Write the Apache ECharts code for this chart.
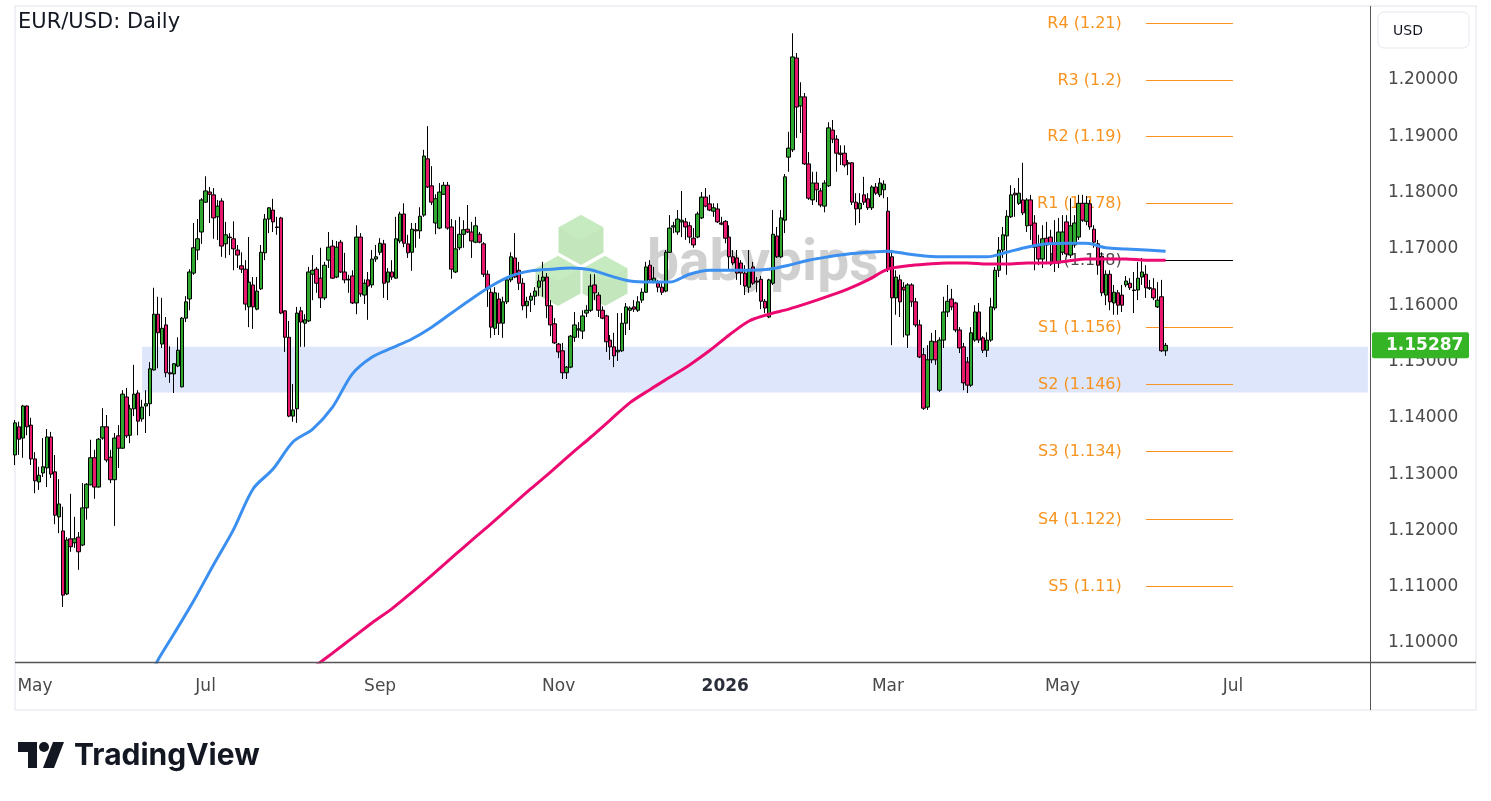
<!DOCTYPE html>
<html><head><meta charset="utf-8">
<script src="https://cdn.jsdelivr.net/npm/echarts@6/dist/echarts.min.js"></script>
<style>html,body{margin:0;padding:0;background:#fff}#c{width:1491px;height:801px}</style>
</head><body><div id="c"></div>
<script>
// ---------------- data ----------------
const startDate = '2025-04-24';
const skipDates = ['2025-12-25', '2026-01-01'];
const categoryCount = 342;
const monthNames = ['Jan','Feb','Mar','Apr','May','Jun','Jul','Aug','Sep','Oct','Nov','Dec'];

const opens = [1.1334,1.1384,1.1364,1.1421,1.1387,1.1327,1.1286,1.1302,1.1311,1.1366,
1.1304,1.1224,1.1199,1.1087,1.1185,1.1178,1.1188,1.1174,1.1240,1.1281,
1.1329,1.1277,1.1364,1.1384,1.1330,1.1290,1.1368,1.1346,1.1437,1.1369,
1.1416,1.1444,1.1398,1.1421,1.1425,1.1485,1.1584,1.1531,1.1565,1.1480,
1.1478,1.1492,1.1455,1.1577,1.1611,1.1657,1.1698,1.1730,1.1783,1.1801,
1.1796,1.1757,1.1785,1.1709,1.1721,1.1718,1.1698,1.1670,1.1664,1.1597,
1.1636,1.1593,1.1629,1.1693,1.1753,1.1769,1.1739,1.1755,1.1590,1.1543,
1.1403,1.1416,1.1590,1.1568,1.1572,1.1655,1.1664,1.1648,1.1613,1.1680,
1.1705,1.1650,1.1712,1.1659,1.1646,1.1652,1.1604,1.1721,1.1618,1.1645,
1.1636,1.1682,1.1694,1.1709,1.1641,1.1659,1.1648,1.1714,1.1762,1.1709,
1.1694,1.1734,1.1732,1.1760,1.1860,1.1812,1.1746,1.1737,1.1797,1.1813,
1.1739,1.1659,1.1702,1.1726,1.1735,1.1730,1.1712,1.1726,1.1709,1.1655,
1.1623,1.1559,1.1611,1.1568,1.1606,1.1645,1.1684,1.1662,1.1639,1.1599,
1.1609,1.1616,1.1632,1.1643,1.1650,1.1599,1.1567,1.1531,1.1519,1.1480,
1.1490,1.1543,1.1556,1.1554,1.1586,1.1591,1.1636,1.1618,1.1591,1.1581,
1.1538,1.1526,1.1517,1.1519,1.1568,1.1591,1.1597,1.1591,1.1609,1.1623,
1.1671,1.1641,1.1639,1.1632,1.1625,1.1694,1.1739,1.1730,1.1748,1.1748,
1.1741,1.1719,1.1721,1.1755,1.1792,1.1780,1.1767,1.1771,1.1746,1.1749,
1.1721,1.1686,1.1684,1.1675,1.1657,1.1632,1.1668,1.1643,1.1646,1.1607,
1.1579,1.1639,1.1723,1.1686,1.1751,1.1863,1.1876,1.2039,1.1954,1.1970,
1.1851,1.1787,1.1817,1.1803,1.1776,1.1812,1.1911,1.1895,1.1870,1.1870,
1.1853,1.1853,1.1783,1.1771,1.1796,1.1789,1.1773,1.1810,1.1796,1.1805,
1.1767,1.1686,1.1613,1.1645,1.1632,1.1547,1.1636,1.1606,1.1565,1.1512,
1.1419,1.1503,1.1535,1.1449,1.1538,1.1588,1.1611,1.1604,1.1556,1.1526,
1.1499,1.1458,1.1538,1.1588,1.1542,1.1520,1.1538,1.1595,1.1662,1.1698,
1.1723,1.1757,1.1799,1.1781,1.1787,1.1741,1.1787,1.1746,1.1705,1.1682,
1.1719,1.1721,1.1710,1.1675,1.1694,1.1748,1.1689,1.1707,1.1721,1.1781,
1.1749,1.1780,1.1735,1.1709,1.1687,1.1618,1.1655,1.1604,1.1622,1.1618,
1.1636,1.1639,1.1627,1.1627,1.1650,1.1655,1.1631,1.1629,1.1597,1.1615,
1.1519];
const closes = [1.1391,1.1362,1.1421,1.1384,1.1327,1.1288,1.1298,1.1313,1.1366,1.1300,
1.1227,1.1247,1.1085,1.1183,1.1171,1.1185,1.1162,1.1240,1.1282,1.1329,
1.1277,1.1362,1.1384,1.1325,1.1290,1.1364,1.1346,1.1442,1.1368,1.1416,
1.1442,1.1394,1.1419,1.1425,1.1487,1.1584,1.1551,1.1559,1.1480,1.1478,
1.1496,1.1520,1.1577,1.1606,1.1659,1.1702,1.1718,1.1787,1.1803,1.1797,
1.1755,1.1776,1.1705,1.1725,1.1720,1.1700,1.1689,1.1664,1.1602,1.1641,
1.1597,1.1625,1.1694,1.1753,1.1773,1.1748,1.1738,1.1586,1.1543,1.1403,
1.1414,1.1586,1.1570,1.1574,1.1659,1.1662,1.1639,1.1613,1.1671,1.1703,
1.1648,1.1703,1.1659,1.1645,1.1645,1.1604,1.1721,1.1620,1.1639,1.1634,
1.1682,1.1686,1.1710,1.1639,1.1659,1.1650,1.1718,1.1762,1.1710,1.1693,
1.1735,1.1732,1.1758,1.1865,1.1810,1.1783,1.1789,1.1801,1.1813,1.1737,
1.1664,1.1700,1.1726,1.1734,1.1730,1.1714,1.1741,1.1712,1.1655,1.1629,
1.1561,1.1622,1.1568,1.1606,1.1645,1.1686,1.1650,1.1639,1.1599,1.1607,
1.1616,1.1625,1.1643,1.1650,1.1599,1.1565,1.1533,1.1517,1.1480,1.1490,
1.1545,1.1565,1.1558,1.1581,1.1591,1.1634,1.1622,1.1591,1.1577,1.1535,
1.1526,1.1510,1.1520,1.1568,1.1597,1.1595,1.1593,1.1606,1.1623,1.1668,
1.1645,1.1648,1.1632,1.1623,1.1694,1.1737,1.1741,1.1753,1.1751,1.1739,
1.1721,1.1707,1.1762,1.1792,1.1776,1.1769,1.1773,1.1748,1.1744,1.1719,
1.1686,1.1675,1.1657,1.1657,1.1634,1.1664,1.1639,1.1641,1.1607,1.1595,
1.1645,1.1726,1.1686,1.1755,1.1828,1.1879,1.2041,1.1952,1.1970,1.1851,
1.1790,1.1817,1.1805,1.1778,1.1817,1.1915,1.1895,1.1870,1.1868,1.1849,
1.1851,1.1783,1.1771,1.1781,1.1783,1.1773,1.1810,1.1799,1.1817,1.1815,
1.1664,1.1613,1.1650,1.1606,1.1627,1.1636,1.1606,1.1565,1.1508,1.1417,
1.1503,1.1536,1.1503,1.1538,1.1588,1.1607,1.1597,1.1556,1.1524,1.1462,
1.1458,1.1551,1.1588,1.1538,1.1520,1.1538,1.1597,1.1662,1.1698,1.1725,
1.1758,1.1796,1.1796,1.1799,1.1764,1.1787,1.1742,1.1703,1.1682,1.1718,
1.1707,1.1710,1.1675,1.1730,1.1730,1.1691,1.1741,1.1746,1.1781,1.1751,
1.1781,1.1739,1.1712,1.1671,1.1622,1.1655,1.1606,1.1623,1.1600,1.1600,
1.1643,1.1631,1.1626,1.1648,1.1659,1.1631,1.1630,1.1613,1.1609,1.1519,
1.15287];
const lows = [1.1316,1.1334,1.1329,1.1369,1.1316,1.1266,1.1272,1.1295,1.1277,1.1293,
1.1211,1.1195,1.1064,1.1085,1.1162,1.1169,1.1130,1.1172,1.1219,1.1280,
1.1256,1.1276,1.1361,1.1321,1.1284,1.1208,1.1311,1.1345,1.1364,1.1355,
1.1403,1.1369,1.1393,1.1373,1.1403,1.1484,1.1488,1.1524,1.1472,1.1462,
1.1444,1.1490,1.1454,1.1570,1.1591,1.1654,1.1680,1.1709,1.1782,1.1746,
1.1718,1.1716,1.1686,1.1684,1.1689,1.1662,1.1666,1.1657,1.1591,1.1561,
1.1558,1.1591,1.1627,1.1680,1.1728,1.1730,1.1725,1.1584,1.1517,1.1401,
1.1393,1.1391,1.1526,1.1526,1.1570,1.1609,1.1622,1.1595,1.1609,1.1666,
1.1647,1.1648,1.1657,1.1639,1.1622,1.1602,1.1584,1.1615,1.1602,1.1574,
1.1631,1.1677,1.1689,1.1613,1.1609,1.1645,1.1647,1.1710,1.1703,1.1684,
1.1661,1.1702,1.1718,1.1757,1.1808,1.1778,1.1726,1.1735,1.1796,1.1734,
1.1647,1.1657,1.1698,1.1702,1.1728,1.1684,1.1710,1.1710,1.1650,1.1597,
1.1542,1.1547,1.1547,1.1542,1.1602,1.1641,1.1648,1.1627,1.1591,1.1577,
1.1588,1.1600,1.1616,1.1615,1.1577,1.1545,1.1531,1.1506,1.1469,1.1469,
1.1488,1.1535,1.1542,1.1540,1.1579,1.1588,1.1609,1.1579,1.1575,1.1517,
1.1503,1.1490,1.1501,1.1517,1.1547,1.1556,1.1588,1.1588,1.1604,1.1622,
1.1641,1.1639,1.1623,1.1618,1.1623,1.1693,1.1728,1.1725,1.1721,1.1716,
1.1710,1.1702,1.1719,1.1753,1.1774,1.1767,1.1757,1.1746,1.1742,1.1710,
1.1661,1.1671,1.1645,1.1636,1.1618,1.1622,1.1636,1.1623,1.1593,1.1586,
1.1577,1.1636,1.1684,1.1684,1.1728,1.1837,1.1872,1.1897,1.1906,1.1849,
1.1787,1.1778,1.1783,1.1774,1.1765,1.1810,1.1888,1.1837,1.1849,1.1845,
1.1831,1.1778,1.1742,1.1746,1.1778,1.1769,1.1769,1.1796,1.1792,1.1790,
1.1659,1.1529,1.1583,1.1579,1.1543,1.1524,1.1597,1.1561,1.1506,1.1414,
1.1414,1.1497,1.1494,1.1446,1.1524,1.1579,1.1591,1.1552,1.1515,1.1449,
1.1444,1.1455,1.1535,1.1533,1.1515,1.1508,1.1535,1.1591,1.1650,1.1684,
1.1654,1.1755,1.1757,1.1778,1.1760,1.1730,1.1716,1.1662,1.1671,1.1666,
1.1677,1.1670,1.1659,1.1666,1.1689,1.1686,1.1684,1.1702,1.1716,1.1748,
1.1742,1.1734,1.1702,1.1654,1.1616,1.1600,1.1591,1.1583,1.1583,1.1588,
1.1632,1.1627,1.1586,1.1609,1.1636,1.1613,1.1627,1.1609,1.1595,1.1517,
1.1510];
const highs = [1.1396,1.1393,1.1423,1.1422,1.1400,1.1339,1.1313,1.1364,1.1380,1.1375,
1.1334,1.1291,1.1242,1.1188,1.1265,1.1224,1.1197,1.1284,1.1284,1.1361,
1.1343,1.1364,1.1417,1.1405,1.1343,1.1373,1.1387,1.1449,1.1453,1.1423,
1.1494,1.1449,1.1432,1.1449,1.1499,1.1631,1.1615,1.1613,1.1579,1.1527,
1.1497,1.1543,1.1579,1.1616,1.1664,1.1746,1.1753,1.1790,1.1829,1.1810,
1.1808,1.1787,1.1790,1.1748,1.1728,1.1749,1.1707,1.1694,1.1680,1.1721,
1.1650,1.1650,1.1707,1.1762,1.1774,1.1789,1.1757,1.1757,1.1591,1.1572,
1.1460,1.1597,1.1597,1.1584,1.1668,1.1689,1.1668,1.1702,1.1677,1.1730,
1.1716,1.1714,1.1716,1.1693,1.1654,1.1662,1.1742,1.1728,1.1646,1.1659,
1.1698,1.1707,1.1719,1.1716,1.1666,1.1680,1.1757,1.1766,1.1781,1.1725,
1.1746,1.1746,1.1774,1.1876,1.1918,1.1847,1.1797,1.1817,1.1819,1.1819,
1.1753,1.1751,1.1757,1.1751,1.1778,1.1748,1.1757,1.1730,1.1712,1.1662,
1.1630,1.1632,1.1622,1.1615,1.1650,1.1694,1.1728,1.1677,1.1648,1.1615,
1.1622,1.1632,1.1654,1.1677,1.1657,1.1609,1.1577,1.1533,1.1533,1.1492,
1.1547,1.1588,1.1570,1.1591,1.1600,1.1655,1.1655,1.1623,1.1598,1.1583,
1.1547,1.1551,1.1586,1.1586,1.1604,1.1598,1.1609,1.1616,1.1630,1.1677,
1.1680,1.1668,1.1645,1.1639,1.1698,1.1760,1.1748,1.1769,1.1803,1.1755,
1.1748,1.1737,1.1766,1.1801,1.1808,1.1796,1.1781,1.1781,1.1757,1.1751,
1.1742,1.1698,1.1698,1.1680,1.1671,1.1698,1.1677,1.1650,1.1652,1.1611,
1.1647,1.1769,1.1739,1.1769,1.1833,1.1908,1.2083,1.2048,1.1996,1.1977,
1.1872,1.1837,1.1837,1.1808,1.1822,1.1925,1.1929,1.1902,1.1884,1.1884,
1.1858,1.1854,1.1799,1.1799,1.1828,1.1799,1.1813,1.1817,1.1826,1.1822,
1.1792,1.1698,1.1662,1.1654,1.1641,1.1639,1.1639,1.1613,1.1574,1.1524,
1.1529,1.1551,1.1556,1.1543,1.1615,1.1636,1.1629,1.1606,1.1561,1.1533,
1.1508,1.1561,1.1600,1.1604,1.1545,1.1552,1.1613,1.1668,1.1721,1.1739,
1.1769,1.1813,1.1808,1.1826,1.1853,1.1790,1.1796,1.1760,1.1725,1.1742,
1.1748,1.1734,1.1751,1.1755,1.1760,1.1760,1.1790,1.1760,1.1796,1.1796,
1.1794,1.1787,1.1742,1.1716,1.1694,1.1662,1.1662,1.1636,1.1627,1.1636,
1.1652,1.1648,1.1659,1.1677,1.1684,1.1671,1.1645,1.1648,1.1641,1.1645,
1.1533];

// moving averages: [bar index, value]
const blueMA = [[35,1.0955],[36,1.0970],[40,1.1016],[45,1.1075],[50,1.1139],[55,1.1201],[60,1.1274],[65,1.1309],
[70,1.1357],[75,1.1380],[80,1.1419],[85,1.1478],[90,1.1508],[95,1.1524],[100,1.1540],[105,1.1561],[110,1.1586],
[115,1.1611],[120,1.1634],[125,1.1652],[130,1.1661],[135,1.1664],[140,1.1666],[145,1.1663],[150,1.1652],
[155,1.1643],[160,1.1641],[165,1.1641],[170,1.1655],[175,1.1662],[180,1.1662],[185,1.1662],[190,1.1664],
[195,1.1671],[200,1.1680],[205,1.1686],[210,1.1691],[215,1.1694],[220,1.1696],[225,1.1691],[230,1.1687],
[235,1.1686],[240,1.1686],[245,1.1686],[250,1.1694],[255,1.1703],[260,1.1709],[265,1.1710],[270,1.1710],
[275,1.1702],[280,1.1700],[285,1.1698],[290,1.1696]];
const pinkMA = [[76,1.0961],[80,1.0982],[85,1.1009],[90,1.1036],[95,1.1061],[100,1.1090],[105,1.1120],[110,1.1151],
[115,1.1182],[120,1.1212],[125,1.1243],[130,1.1274],[135,1.1304],[140,1.1335],[145,1.1365],[150,1.1396],
[155,1.1427],[160,1.1450],[165,1.1472],[170,1.1494],[175,1.1519],[180,1.1547],[185,1.1572],[190,1.1584],
[195,1.1593],[200,1.1604],[205,1.1616],[210,1.1629],[215,1.1645],[220,1.1664],[225,1.1670],[230,1.1673],
[235,1.1675],[240,1.1675],[245,1.1673],[250,1.1673],[255,1.1675],[260,1.1675],[265,1.1678],[270,1.1682],
[275,1.1682],[280,1.1682],[285,1.1680],[290,1.1680]];

const pivotNames  = ['R4','R3','R2','R1','P','S1','S2','S3','S4','S5'];
const pivotValues = [1.21, 1.2, 1.19, 1.178, 1.168, 1.156, 1.146, 1.134, 1.122, 1.11];
const pivotStart = '2026-06-01';
const pivotEnd   = '2026-07-01';
const zoneStart = '2025-06-09';
const zoneTop = 1.1526;
const zoneBottom = 1.1445;
const yTicks = [1.10,1.11,1.12,1.13,1.14,1.15,1.16,1.17,1.18,1.19,1.20];
const lastPrice = 1.15287;
const yMin = 1.096625, yMax = 1.213144;

// ---------------- build ----------------
const cats = [];
{
  const d = new Date(startDate + 'T00:00:00Z');
  while (cats.length < categoryCount) {
    const wd = d.getUTCDay();
    const s = d.toISOString().slice(0, 10);
    if (wd !== 0 && wd !== 6 && !skipDates.includes(s)) cats.push(s);
    d.setUTCDate(d.getUTCDate() + 1);
  }
}
const candleData = cats.map((c, i) => i < opens.length ? [opens[i], closes[i], lows[i], highs[i]] : '-');
const FONT = 'DejaVu Sans';
const ORANGE = '#f7931e';

const pivotData = pivotValues.map((v, i) => [pivotStart, pivotEnd, v, i]);

const chart = echarts.init(document.getElementById('c'), null, { renderer: 'canvas' });
const option = {
  animation: false,
  backgroundColor: '#fff',
  grid: { left: 13.2, top: 6, width: 1356.7, height: 656, containLabel: false },
  xAxis: {
    type: 'category', data: cats, boundaryGap: true,
    axisLine: { show: false }, axisTick: { show: false }, splitLine: { show: false },
    axisLabel: {
      interval: (idx, val) => {
        if (idx === 0) return false;
        const m = +val.slice(5, 7), pm = +cats[idx - 1].slice(5, 7);
        return m !== pm && m % 2 === 1;
      },
      formatter: (val) => {
        const m = +val.slice(5, 7);
        return m === 1 ? '{b|' + val.slice(0, 4) + '}' : monthNames[m - 1];
      },
      color: '#4a4a4a', fontSize: 17, fontFamily: FONT, margin: 16,
      rich: { b: { fontWeight: 'bold', color: '#2a2e39', fontSize: 17, fontFamily: FONT } }
    }
  },
  yAxis: {
    type: 'value', position: 'right', min: yMin, max: yMax, scale: true,
    axisLine: { show: false }, axisTick: { show: false }, splitLine: { show: false },
    axisLabel: { customValues: yTicks, formatter: v => v.toFixed(5), color: '#4a4a4a',
                 fontSize: 17, fontFamily: FONT, margin: 18, align: 'left' }
  },
  series: [
    { type: 'line', name: 'zone', data: [], z: 0, silent: true,
      markArea: { silent: true, z: 0, itemStyle: { color: '#dee6fc' },
        data: [[{ coord: [zoneStart, zoneTop] }, { coord: [cats[categoryCount - 1], zoneBottom] }]] } },
    { type: 'custom', name: 'pivots', data: pivotData, z: 1, silent: true, clip: false,
      encode: { x: [0, 1], y: 2 },
      renderItem: (params, api) => {
        const i = api.value(3);
        const a = api.coord([api.value(0), api.value(2)]);
        const b = api.coord([api.value(1), api.value(2)]);
        const y = Math.round(a[1] - 0.5) + 0.5;
        const isP = pivotNames[i] === 'P';
        const col = isP ? '#000' : ORANGE;
        return { type: 'group', children: [
          { type: 'line', shape: { x1: Math.round(a[0]), y1: y, x2: Math.round(b[0]), y2: y }, style: { stroke: col, lineWidth: 1 } },
          { type: 'text', x: a[0] - 24, y: y, style: { text: pivotNames[i] + ' (' + pivotValues[i] + ')',
              fill: isP ? 'rgba(40,40,40,0.85)' : ORANGE, font: '16px "DejaVu Sans"', textAlign: 'right', textVerticalAlign: 'middle' } }
        ] };
      } },
    { type: 'candlestick', name: 'EURUSD', data: candleData, barWidth: 4, barMaxWidth: 4, z: 2,
      itemStyle: { color: '#2fa82f', color0: '#e8196d', borderColor: '#000', borderColor0: '#000',
                   borderColorDoji: '#000', borderWidth: 1 } },
    { type: 'line', name: 'MA100', data: blueMA, smooth: 0.3, symbol: 'none', z: 4,
      lineStyle: { color: '#3a8ff0', width: 3 } },
    { type: 'line', name: 'MA200', data: pinkMA, smooth: 0.3, symbol: 'none', z: 4,
      lineStyle: { color: '#ec0a72', width: 3 } }
  ]
};
chart.setOption(option);

// ---------------- decorations ----------------
const lastY = chart.convertToPixel({ yAxisIndex: 0 }, lastPrice);
function cube(cx, top, w, h) {
  const q = h / 4;
  return [
    { type: 'polygon', z: -5, shape: { points: [[cx, top], [cx + w / 2, top + q], [cx + w / 2, top + 3 * q], [cx, top + h], [cx - w / 2, top + 3 * q], [cx - w / 2, top + q]] },
      style: { fill: 'rgba(176,222,166,0.75)' } },
    { type: 'polygon', z: -5, shape: { points: [[cx, top], [cx + w / 2, top + q], [cx, top + 2 * q], [cx - w / 2, top + q]] },
      style: { fill: 'rgba(200,236,192,0.8)' } }
  ];
}
const graphics = [
  { type: 'rect', z: -20, shape: { x: 15, y: 6, width: 1461, height: 704 }, style: { fill: null, stroke: '#f0f1f4', lineWidth: 2 } },
  { type: 'line', z: 50, shape: { x1: 1370.5, y1: 6, x2: 1370.5, y2: 710 }, style: { stroke: '#555', lineWidth: 1 } },
  { type: 'line', z: 50, shape: { x1: 15, y1: 662.5, x2: 1476, y2: 662.5 }, style: { stroke: '#555', lineWidth: 1.5 } },
  { type: 'text', z: 50, x: 18, y: 23, style: { text: 'EUR/USD: Daily', fill: '#131722', font: '21px "DejaVu Sans"', textVerticalAlign: 'middle' } },
  { type: 'rect', z: 50, shape: { x: 1378, y: 12, width: 91, height: 36, r: 6 }, style: { fill: '#fff', stroke: '#e6e8ee', lineWidth: 1 } },
  { type: 'text', z: 51, x: 1393, y: 31, style: { text: 'USD', fill: '#131722', font: '14px "DejaVu Sans"', textVerticalAlign: 'middle' } },
  { type: 'rect', z: 60, shape: { x: 1372, y: lastY - 13, width: 97, height: 26, r: 2 }, style: { fill: '#35b526' } },
  { type: 'text', z: 61, x: 1386, y: lastY, style: { text: lastPrice.toFixed(5), fill: '#fff', font: 'bold 17px "DejaVu Sans"', textVerticalAlign: 'middle' } },
  // babypips watermark
  ...cube(581, 215, 45, 50), ...cube(558, 256, 45, 50), ...cube(605, 256, 45, 50),
  { type: 'text', z: -5, x: 647, y: 294, style: { text: 'babypips', fill: 'rgba(200,200,200,0.85)', font: 'bold 57px Roboto', textVerticalAlign: 'bottom' } },
  // TradingView logo
  { type: 'polygon', z: 50, shape: { points: [[18, 742], [37, 742], [37, 768], [28, 768], [28, 752], [18, 752]] }, style: { fill: '#131722' } },
  { type: 'circle', z: 50, shape: { cx: 44, cy: 747, r: 5 }, style: { fill: '#131722' } },
  { type: 'polygon', z: 50, shape: { points: [[53, 742], [64, 742], [54, 768], [43, 768]] }, style: { fill: '#131722' } },
  { type: 'text', z: 50, x: 74, y: 756, style: { text: 'TradingView', fill: '#131722', font: 'bold 30px Inter', textVerticalAlign: 'middle' } }
];
chart.setOption({ graphic: graphics });
</script></body></html>
